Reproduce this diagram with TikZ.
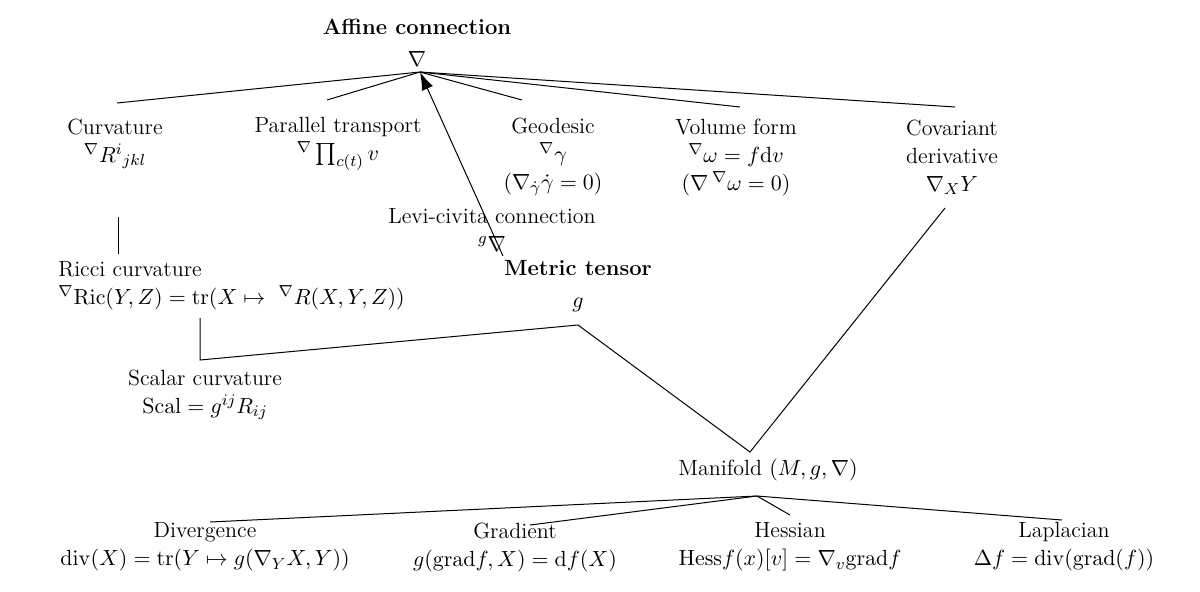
\documentclass[tikz,border=0pt]{standalone}
\usepackage{amsmath}
\usetikzlibrary{arrows.meta}
\begin{document}
\begin{tikzpicture}[x=0.5pt,y=-0.5pt,
  t/.style={inner sep=0pt,align=center,font=\fontsize{11}{14}\selectfont},
  ln/.style={line width=0.5pt}]
\useasboundingbox (0,0) rectangle (1200,591);
\node[t] (aff) at (417,43) {\textbf{Affine connection}\\[2pt]$\nabla$};
\coordinate (top) at (420,72);
\node[t] (curv) at (115,144) {Curvature\\${}^{\nabla}R^{i}{}_{jkl}$};
\node[t] (par) at (338,144) {Parallel transport\\${}^{\nabla}\prod_{c(t)}v$};
\node[t] (geo) at (553,157) {Geodesic\\${}^{\nabla}\gamma$\\$(\nabla_{\dot\gamma}\dot\gamma=0)$};
\node[t] (vol) at (736,157) {Volume form\\${}^{\nabla}\omega=f\mathrm{d}v$\\$(\nabla\,{}^{\nabla}\omega=0)$};
\node[t] (cov) at (952,157) {Covariant\\derivative\\$\nabla_XY$};
\node[t] (lc) at (492,230) {Levi-civita connection\\${}^{g}\nabla$};
\node[t] (met) at (578,286) {\textbf{Metric tensor}\\[2pt]$g$};
\node[t,align=left,anchor=west] (ric) at (58,286) {Ricci curvature\\${}^{\nabla}\mathrm{Ric}(Y,Z)=\mathrm{tr}(X\mapsto\ {}^{\nabla}R(X,Y,Z))$};
\node[t] (sc) at (205,395) {Scalar curvature\\$\mathrm{Scal}=g^{ij}R_{ij}$};
\node[t] (man) at (768,470) {Manifold $(M,g,\nabla)$};
\node[t] (div) at (205,547) {Divergence\\$\mathrm{div}(X)=\mathrm{tr}(Y\mapsto g(\nabla_YX,Y))$};
\node[t] (gra) at (515,547) {Gradient\\$g(\mathrm{grad}f,X)=\mathrm{d}f(X)$};
\node[t] (hes) at (790,547) {Hessian\\$\mathrm{Hess}f(x)[v]=\nabla_v\mathrm{grad}f$};
\node[t] (lap) at (1064,547) {Laplacian\\$\Delta f=\mathrm{div}(\mathrm{grad}(f))$};
\coordinate (c1) at (117,103); \coordinate (c2) at (327,100);
\coordinate (c3) at (522,100); \coordinate (c4) at (740,107);
\coordinate (c5) at (955,107);
\coordinate (r1) at (118,217); \coordinate (r2) at (118,254);
\coordinate (a1) at (503,256);
\coordinate (p1) at (200,318); \coordinate (p2) at (200,360);
\coordinate (p3) at (578,325); \coordinate (p4) at (750,452);
\coordinate (p5) at (945,208);
\coordinate (m0) at (757,496);
\coordinate (d1) at (210,522); \coordinate (d2) at (530,525);
\coordinate (d3) at (790,515); \coordinate (d4) at (1062,520);
\foreach \c in {c1,c2,c3,c4,c5} \draw[ln] (top) -- (\c);
\draw[ln] (r1) -- (r2);
\draw[ln,-{Latex[length=9pt,width=6pt]}] (a1) -- (top);
\draw[ln] (p1) -- (p2) -- (p3) -- (p4) -- (p5);
\foreach \c in {d1,d2,d3,d4} \draw[ln] (m0) -- (\c);
\end{tikzpicture}
\end{document}
